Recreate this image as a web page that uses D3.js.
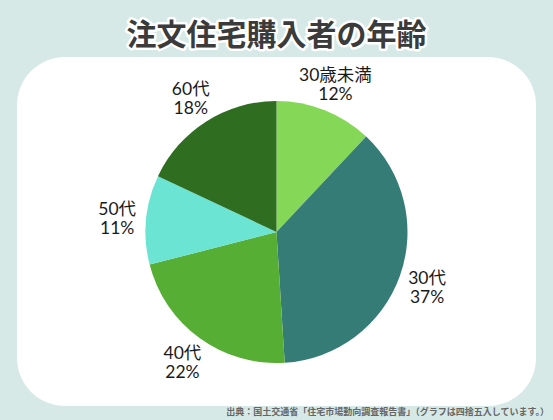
<!DOCTYPE html>
<html lang="ja">
<head>
    <meta charset="UTF-8">
    <title>注文住宅購入者の年齢</title>
    <style>
        body {
            margin: 0;
            padding: 0;
            background-color: #d6e9e7;
            font-family: 'Noto Sans CJK JP', 'Noto Sans', sans-serif;
        }
        #chart {
            width: 553px;
            height: 420px;
        }
        .title {
            font-size: 30px;
            font-weight: bold;
            fill: #3b3b3b;
            stroke: #fff;
            stroke-width: 5px;
            stroke-linejoin: round;
            paint-order: stroke;
            text-anchor: middle;
        }
        .label {
            font-family: Lato, 'Noto Sans CJK JP', sans-serif;
            font-size: 17.5px;
            fill: #1a1a1a;
            text-anchor: middle;
        }
        .source {
            font-size: 9px;
            font-weight: bold;
            fill: #666;
            text-anchor: end;
        }
    </style>
</head>
<body>
    <div id="chart"></div>

    <script src="https://d3js.org/d3.v7.min.js"></script>
    <script>
        const categories = ["30歳未満", "30代", "40代", "50代", "60代"];
        const values = [12, 37, 22, 11, 18];
        const colors = ["#85d757", "#357c77", "#56ae34", "#6ce4d3", "#2f6e20"];

        const width = 553;
        const height = 420;
        const cx = 276.5, cy = 232;
        const radius = 131;
        const labelRadius = 160;

        const svg = d3.select("#chart").append("svg")
            .attr("width", width)
            .attr("height", height);

        svg.append("rect")
            .attr("width", width)
            .attr("height", height)
            .attr("fill", "#d6e9e7");

        // white card
        svg.append("rect")
            .attr("x", 17)
            .attr("y", 57)
            .attr("width", 519)
            .attr("height", 349)
            .attr("rx", 48)
            .attr("fill", "#fff");

        svg.append("text")
            .attr("class", "title")
            .attr("x", width / 2)
            .attr("y", 45)
            .text("注文住宅購入者の年齢");

        const data = categories.map((c, i) => ({ name: c, value: values[i], color: colors[i] }));

        const pie = d3.pie()
            .sort(null)
            .value(d => d.value);

        const arc = d3.arc()
            .innerRadius(0)
            .outerRadius(radius);

        const labelArc = d3.arc()
            .innerRadius(labelRadius)
            .outerRadius(labelRadius);

        const g = svg.append("g")
            .attr("transform", `translate(${cx},${cy})`);

        const arcs = pie(data);

        g.selectAll("path")
            .data(arcs)
            .enter().append("path")
            .attr("d", arc)
            .attr("fill", d => d.data.color);

        // two-line labels: name, then percentage
        const labelGroups = g.selectAll(".label-group")
            .data(arcs)
            .enter().append("g")
            .attr("class", "label-group")
            .attr("transform", d => `translate(${labelArc.centroid(d)})`);

        labelGroups.append("text")
            .attr("class", "label")
            .attr("y", -2)
            .text(d => d.data.name);

        labelGroups.append("text")
            .attr("class", "label")
            .attr("y", 17)
            .text(d => `${d.data.value}%`);

        svg.append("text")
            .attr("class", "source")
            .attr("x", 549)
            .attr("y", 415)
            .text("出典：国土交通省「住宅市場動向調査報告書」（グラフは四捨五入しています。）");
    </script>
</body>
</html>
